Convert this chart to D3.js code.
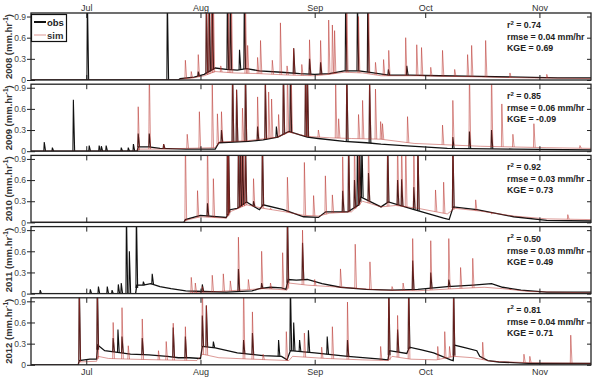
<!DOCTYPE html>
<html>
<head>
<meta charset="utf-8">
<script src="https://cdn.jsdelivr.net/npm/d3@7/dist/d3.min.js"></script>
<style>
  body { margin: 0; background: #fff; }
  svg { font-family: "Liberation Sans", Arial, sans-serif; }
</style>
</head>
<body>
<div id="chart"></div>
<script>
// days counted from 1 July
const years = ["2008", "2009", "2010", "2011", "2012"];
const monthLabels = ["Jul", "Aug", "Sep", "Oct", "Nov"];
const monthDays = [0, 31, 62, 92, 123];
const yTicks = [0, 0.3, 0.6, 0.9];
const r2 = ["0.74", "0.85", "0.92", "0.50", "0.81"];
const rmse = ["0.04", "0.06", "0.03", "0.03", "0.04"];
const kge = ["0.69", "-0.09", "0.73", "0.49", "0.71"];

// baseflow [day, value]
const obsBase2008 = [[-15,0],[25,0],[25.5,0.02],[29.3,0.04],[32,0.08],[35,0.17],[38,0.15],[41,0.14],[43.5,0.16],[47,0.13],[53,0.11],[58,0.09],[62,0.08],[66,0.09],[70,0.13],[74,0.13],[78,0.1],[82,0.07],[88,0.07],[96,0.06],[107,0.05],[118,0.04],[128,0.03],[137,0.03]];
const simBase2008 = [[-15,0],[25,0],[25.5,0.01],[29,0.03],[32,0.06],[35,0.12],[40,0.1],[47,0.09],[55,0.07],[62,0.06],[66,0.08],[70,0.11],[75,0.1],[80,0.06],[90,0.06],[100,0.05],[110,0.04],[120,0.03],[137,0.02]];
const obsBase2009 = [[-15,0],[13.8,0],[14.1,0.06],[17,0.06],[20,0.04],[27,0.03],[35,0.03],[36,0.12],[40,0.13],[44,0.14],[48,0.16],[52,0.2],[55,0.28],[58,0.23],[60,0.2],[63,0.18],[70,0.14],[76,0.12],[80,0.1],[86,0.08],[98,0.04],[116,0.03],[137,0.02]];
const simBase2009 = [[-15,0],[14,0],[14.2,0.03],[20,0.03],[27,0.04],[35,0.05],[36,0.13],[44,0.15],[52,0.2],[55,0.27],[60,0.21],[66,0.19],[72,0.18],[80,0.17],[89,0.11],[107,0.07],[125,0.05],[137,0.04]];
const obsBase2010 = [[-15,0],[26.5,0],[26.9,0.04],[31,0.1],[38,0.07],[39,0.18],[41,0.2],[43.5,0.29],[47,0.18],[48,0.25],[53.5,0.18],[59,0.08],[63,0.07],[65,0.15],[71,0.15],[74,0.25],[74.5,0.36],[80,0.22],[82,0.29],[89,0.18],[97,0.06],[98.5,0.04],[99.6,0.22],[106,0.18],[116,0.08],[125,0.03],[137,0.02]];
const simBase2010 = [[-15,0],[26.5,0],[27,0.03],[31,0.08],[38,0.06],[39,0.15],[43.5,0.25],[48,0.2],[54,0.15],[59,0.1],[63,0.09],[66,0.13],[72,0.15],[75,0.3],[80,0.22],[84,0.24],[90,0.2],[98,0.12],[100,0.2],[107,0.16],[116,0.09],[125,0.05],[137,0.04]];
const obsBase2011 = [[-15,0],[13.4,0],[13.7,0.12],[15.5,0.12],[17.5,0.14],[20,0.1],[23,0.07],[27,0.04],[32,0.03],[38,0.02],[45,0.04],[47,0.07],[50,0.09],[53,0.08],[54.2,0.06],[54.8,0.2],[57,0.19],[60,0.2],[64,0.14],[69,0.09],[76,0.06],[83,0.05],[90,0.06],[98,0.1],[105,0.12],[110,0.14],[113,0.09],[118,0.05],[125,0.02],[137,0.02]];
const simBase2011 = [[-15,0],[27,0],[28,0.01],[36,0.03],[42,0.05],[48,0.07],[52,0.06],[54.5,0.05],[55,0.15],[60,0.12],[66,0.1],[72,0.08],[80,0.05],[90,0.04],[100,0.07],[108,0.09],[113,0.07],[120,0.03],[137,0.01]];
const obsBase2012 = [[-15,0],[-2.2,0],[-1.9,0.06],[1,0.08],[2.8,0.08],[3.1,0.28],[5,0.2],[8,0.18],[12,0.15],[17,0.14],[22,0.12],[25,0.1],[28,0.1],[31,0.09],[31.5,0.26],[35,0.24],[41,0.17],[48,0.13],[53,0.12],[54.5,0.07],[55.4,0.2],[62,0.17],[71,0.12],[80,0.08],[81.9,0.07],[82.3,0.2],[87,0.16],[87.7,0.25],[91,0.21],[94.3,0.17],[98.9,0.07],[99.6,0.06],[99.9,0.28],[103,0.24],[106,0.2],[106.8,0.12],[109,0.06],[112,0.04],[120,0.02],[137,0.02]];
const simBase2012 = [[-15,0],[-2.2,0],[-1.9,0.04],[2.8,0.05],[3.2,0.12],[6,0.09],[12,0.08],[20,0.07],[30,0.06],[31.6,0.15],[36,0.1],[45,0.08],[55,0.06],[56,0.12],[65,0.09],[75,0.07],[82,0.06],[83,0.12],[88,0.08],[95,0.07],[99.8,0.12],[105,0.1],[110,0.05],[120,0.03],[137,0.02]];

// storm peaks [day, peak]
const obsSpikes2008 = [[0.3,1.2],[22,1.2],[30.4,0.12],[32.6,1.2],[33.4,1.2],[34.2,1.2],[38.3,1.2],[39.1,1.2],[41.6,0.43],[42.9,1.2],[56.3,0.45],[60.6,0.3],[63.6,0.25],[70.4,1.2],[73.6,1.2],[76.4,1.2],[82,0.15],[87,0.2]];
const simSpikes2008 = [[26.9,0.28],[28.5,0.12],[30.4,0.36],[32.6,1.2],[33.2,1.2],[34,1.2],[34.5,1.2],[36.5,0.2],[38.6,1.2],[39.4,1.2],[43.2,1.2],[43.8,0.49],[46.5,0.32],[47.3,0.56],[50.5,0.28],[52.7,0.81],[54.5,0.2],[56.3,0.45],[58.5,0.22],[60.6,0.57],[63.6,0.56],[65.8,0.85],[66.8,0.78],[67.4,0.7],[70.7,1.2],[73.9,0.9],[76.6,1.2],[78.5,0.25],[80.7,0.29],[82.1,0.42],[86.7,0.6],[89.7,0.5],[91,0.46],[93.5,0.18],[96.7,0.42],[100,0.15],[103.5,0.36],[104.6,0.49],[108.4,0.56],[115,0.1],[125,0.08]];
const obsSpikes2009 = [[-11.4,0.13],[-9.2,0.05],[-3.5,0.73],[0.8,0.08],[3.5,0.08],[4.1,0.07],[5.4,0.08],[9.5,0.05],[11.4,0.05],[12.8,0.1],[14.1,0.25],[17.1,0.25],[21,0.1],[36.7,0.3],[39.7,1.2],[40.8,0.87],[43.2,1.2],[46.5,0.35],[48.6,0.98],[51.6,0.35],[53.5,1.2],[55.4,1.2],[59.5,1.2],[60,1.2],[70.7,1.2],[76.9,0.98],[99.5,0.2],[104,0.28],[110,0.3]];
const simSpikes2009 = [[14.1,0.63],[17.1,1.2],[21,0.1],[27.4,0.24],[30.7,0.56],[34.2,0.94],[35.6,0.53],[36.7,0.56],[39.7,1.2],[40.8,0.87],[42.4,0.61],[43.2,1.2],[46.5,0.77],[48.6,1.2],[49.5,0.84],[50.3,0.74],[52.2,0.52],[53.5,1.2],[54.6,1.2],[55.6,1.2],[59.5,1.2],[60,1.2],[63,0.3],[67.7,0.95],[68.5,0.46],[70.7,1.2],[73.9,0.52],[75,0.72],[76.9,1.2],[78.5,0.88],[79.9,0.42],[80.4,0.39],[87.2,0.49],[96.7,0.37],[99.5,0.72],[104,1.2],[110,1.2],[112.8,0.67],[115.8,0.24],[121.5,0.39],[134,0.08]];
const obsSpikes2010 = [[32.9,0.27],[38.3,1.2],[38.6,1.2],[41.3,1.2],[41.8,1.2],[42.4,1.2],[43.2,1.2],[45.4,0.3],[47.8,1.2],[69.6,0.45],[71.2,1.2],[72.8,0.6],[73.6,1.2],[74.2,1.2],[74.8,1.2],[76.6,0.7],[81.8,1.2],[84.5,0.6],[85.6,0.61],[88.9,0.5],[90,1.2],[99.5,1.2]];
const simSpikes2010 = [[26.9,1.2],[30.2,0.45],[32.9,1.2],[34.5,0.62],[38.3,1.2],[38.6,1.2],[41.3,1.2],[42,1.2],[42.6,1.2],[43.2,1.2],[45.4,0.62],[47.8,1.2],[50,0.2],[54.6,0.64],[59.2,0.85],[61.7,0.38],[64.9,0.66],[66.8,0.39],[69.6,0.93],[71.2,1.2],[72.8,1.2],[74,1.2],[76.6,1.2],[81.8,1.2],[84.5,1.2],[85.6,1.2],[86.7,1.2],[88.9,1.2],[90,1.2],[94.8,0.46],[97,0.57],[99.5,1.2],[105.7,0.32],[110,0.12],[130.7,0.11]];
const obsSpikes2011 = [[-12.5,0.05],[1.1,0.06],[3.3,0.1],[5.7,0.1],[7,0.05],[8.7,0.13],[9.5,0.15],[10.9,1.2],[11.7,0.6],[13.6,1.2],[15.5,0.17],[17.9,0.28],[31.5,0.13],[41.3,0.35],[47.6,0.15],[54.6,1.2],[58.7,0.72],[88.6,0.47],[93.5,0.3],[98.4,0.2]];
const simSpikes2011 = [[28.5,0.23],[29.6,0.15],[31.5,0.1],[34.2,0.26],[37.2,0.28],[39.1,0.18],[41.3,0.8],[44,0.2],[47.6,0.6],[50,0.15],[53.3,0.58],[54.6,1.2],[58.7,0.9],[62,0.2],[69,0.35],[73,0.7],[77,0.45],[83,0.1],[86,0.15],[88.6,0.78],[93.5,0.75],[98.4,0.78],[101.6,0.37],[104.9,0.5],[115,0.06]];
const obsSpikes2012 = [[-1.9,1.2],[3,1.2],[7.3,0.38],[8.6,0.5],[9.7,0.4],[15.2,0.38],[23.6,0.53],[26.9,0.4],[31.5,0.7],[32.6,0.84],[34.5,0.33],[42.7,0.35],[45.1,0.45],[52.2,0.35],[55.4,1.2],[56.3,0.6],[57.9,0.35],[60.3,0.49],[65.4,0.4],[70.9,0.35],[82.1,1.2],[84.5,0.5],[87.5,1.2],[99.7,1.2]];
const simSpikes2012 = [[-1.9,1.2],[3,1.2],[7.3,0.6],[9.7,0.81],[11.4,0.27],[15.2,0.65],[19.6,0.2],[21.7,0.33],[23.6,0.59],[26.9,0.54],[31.5,1.2],[32.6,0.84],[42.7,1.2],[45.1,0.75],[48,0.15],[54.3,0.47],[59.2,0.45],[63.9,0.25],[66.8,0.54],[70.9,0.89],[79.9,0.26],[82.1,1.2],[84.5,0.7],[87.5,1.2],[95.4,0.26],[97.3,0.47],[98.6,0.26],[99.7,1.2],[107.6,0.32],[118.8,0.15],[120.4,0.12],[131.5,0.42]];

const obsBase = [obsBase2008, obsBase2009, obsBase2010, obsBase2011, obsBase2012];
const simBase = [simBase2008, simBase2009, simBase2010, simBase2011, simBase2012];
const obsSpikes = [obsSpikes2008, obsSpikes2009, obsSpikes2010, obsSpikes2011, obsSpikes2012];
const simSpikes = [simSpikes2008, simSpikes2009, simSpikes2010, simSpikes2011, simSpikes2012];

const width = 600, height = 380;
const left = 31, right = 591, top0 = 13, panelH = 67, step = 71.2;
const obsColor = "#111", simColor = "#b8302a";

const svg = d3.select("#chart").append("svg")
    .attr("width", width)
    .attr("height", height);

const x = d3.scaleLinear().domain([-15, 137]).range([left, right]);

// value of the baseflow at a given day
function baseAt(arr, d) {
    const i = d3.bisector(p => p[0]).right(arr, d);
    if (i <= 0) return arr[0][1];
    if (i >= arr.length) return arr[arr.length - 1][1];
    const a = arr[i - 1], b = arr[i];
    return a[1] + (b[1] - a[1]) * (d - a[0]) / (b[0] - a[0]);
}

years.forEach((yr, i) => {
    const top = top0 + i * step;
    const y = d3.scaleLinear().domain([0, 0.95]).range([top + panelH, top]);
    const g = svg.append("g");

    g.append("clipPath").attr("id", "clip" + i)
        .append("rect").attr("x", left).attr("y", top).attr("width", right - left).attr("height", panelH);

    const plot = g.append("g").attr("clip-path", `url(#clip${i})`);
    const line = d3.line().x(d => x(d[0])).y(d => y(d[1]));

    const spikePath = (base) => d => {
        const b = baseAt(base, d[0]);
        return `M${x(d[0] - 0.12)},${y(b)}L${x(d[0])},${y(d[1])}L${x(d[0] + 0.35)},${y(b)}`;
    };

    // observed
    plot.append("path").datum(obsBase[i])
        .attr("d", line).attr("fill", "none")
        .attr("stroke", obsColor).attr("stroke-width", 1.3);
    plot.selectAll(".obs").data(obsSpikes[i]).enter().append("path")
        .attr("class", "obs")
        .attr("d", spikePath(obsBase[i]))
        .attr("fill", "none").attr("stroke", obsColor).attr("stroke-width", 1.1);

    // simulated
    plot.append("path").datum(simBase[i])
        .attr("d", line).attr("fill", "none")
        .attr("stroke", simColor).attr("stroke-width", 0.9).attr("stroke-opacity", 0.55);
    plot.selectAll(".sim").data(simSpikes[i]).enter().append("path")
        .attr("class", "sim")
        .attr("d", spikePath(simBase[i]))
        .attr("fill", "none").attr("stroke", simColor).attr("stroke-width", 0.9).attr("stroke-opacity", 0.6);

    // frame
    g.append("rect").attr("x", left).attr("y", top).attr("width", right - left).attr("height", panelH)
        .attr("fill", "none").attr("stroke", "#222").attr("stroke-width", 1.3);

    // y axes
    const yl = g.append("g").attr("transform", `translate(${left},0)`)
        .call(d3.axisLeft(y).tickValues(yTicks).tickFormat(d => d === 0 ? "0" : d3.format(".1f")(d)).tickSize(4).tickPadding(1));
    yl.select(".domain").remove();
    yl.selectAll("line").attr("stroke", "#222");
    yl.selectAll("text").attr("font-size", 8.5).attr("fill", "#444");

    g.append("g").attr("transform", `translate(${left},0)`)
        .call(d3.axisLeft(y).tickValues(yTicks).tickSize(-4).tickFormat(""))
        .call(a => a.select(".domain").remove())
        .selectAll("line").attr("stroke", "#222");
    g.append("g").attr("transform", `translate(${right},0)`)
        .call(d3.axisRight(y).tickValues(yTicks).tickSize(-4).tickFormat(""))
        .call(a => a.select(".domain").remove())
        .selectAll("line").attr("stroke", "#222");

    // month ticks top and bottom
    g.append("g").attr("transform", `translate(0,${top + panelH})`)
        .call(d3.axisBottom(x).tickValues(monthDays).tickSize(-5).tickFormat(i === 4 ? (d, k) => monthLabels[k] : ""))
        .call(a => a.select(".domain").remove())
        .call(a => a.selectAll("line").attr("stroke", "#222"))
        .call(a => a.selectAll("text").attr("font-size", 9).attr("fill", "#333").attr("y", 3).attr("dy", "0.75em"));
    g.append("g").attr("transform", `translate(0,${top})`)
        .call(d3.axisTop(x).tickValues(monthDays).tickSize(-5).tickFormat(i === 0 ? (d, k) => monthLabels[k] : ""))
        .call(a => a.select(".domain").remove())
        .call(a => a.selectAll("line").attr("stroke", "#222"))
        .call(a => a.selectAll("text").attr("font-size", 9).attr("fill", "#333").attr("y", -2).attr("dy", "0"));

    // y label
    const lab = g.append("text")
        .attr("transform", `translate(12,${top + panelH / 2}) rotate(-90)`)
        .attr("text-anchor", "middle")
        .attr("font-size", 9.5).attr("font-weight", "bold").attr("fill", "#333");
    lab.append("tspan").text(yr + " (mm.hr");
    lab.append("tspan").attr("font-size", 6.5).attr("dy", -4).text("-1");
    lab.append("tspan").attr("dy", 4).text(")");

    // stats
    const st = g.append("text").attr("x", 507).attr("font-size", 8.8).attr("font-weight", "bold").attr("fill", "#222");
    const l1 = st.append("tspan").attr("x", 507).attr("y", top + 15);
    l1.append("tspan").text("r");
    l1.append("tspan").attr("font-size", 6).attr("dy", -3.5).text("2");
    l1.append("tspan").attr("dy", 3.5).text(" = " + r2[i]);
    st.append("tspan").attr("x", 507).attr("y", top + 27).text("rmse = " + rmse[i] + " mm/hr");
    st.append("tspan").attr("x", 507).attr("y", top + 38).text("KGE = " + kge[i]);
});

// legend
const lg = svg.append("g");
lg.append("rect").attr("x", 31.5).attr("y", 14.5).attr("width", 35).attr("height", 27)
    .attr("fill", "#fff").attr("stroke", "#111").attr("stroke-width", 1.2);
lg.append("line").attr("x1", 34).attr("x2", 46).attr("y1", 22).attr("y2", 22)
    .attr("stroke", obsColor).attr("stroke-width", 2);
lg.append("line").attr("x1", 34).attr("x2", 46).attr("y1", 35).attr("y2", 35)
    .attr("stroke", simColor).attr("stroke-opacity", 0.5).attr("stroke-width", 1);
lg.append("text").attr("x", 47).attr("y", 25.5).attr("font-size", 9.5).attr("font-weight", "bold").attr("fill", "#222").text("obs");
lg.append("text").attr("x", 47).attr("y", 38.5).attr("font-size", 9.5).attr("font-weight", "bold").attr("fill", "#333").text("sim");
</script>
</body>
</html>
